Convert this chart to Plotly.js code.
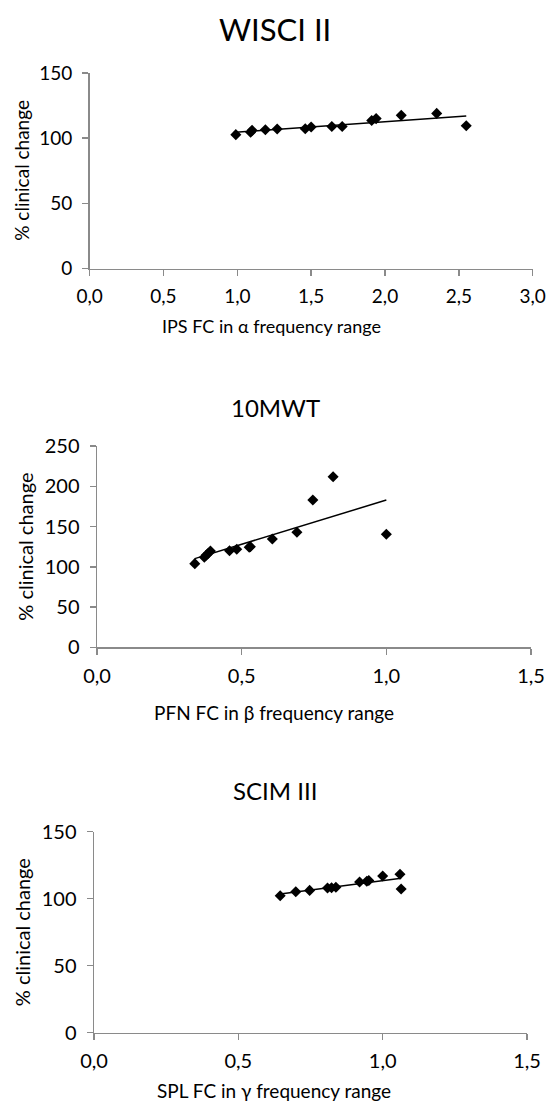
<!DOCTYPE html>
<html>
<head>
<meta charset="utf-8">
<script src="https://cdn.plot.ly/plotly-3.0.1.min.js"></script>
<style>html,body{margin:0;padding:0;background:#fff;}#chart{width:546px;height:1108px;}</style>
</head>
<body>
<div id="chart"></div>
<script>
// ---- Data ----
const titles = ["WISCI II", "10MWT", "SCIM III"];
const xTitles = ["IPS FC in α frequency range", "PFN FC in β frequency range", "SPL FC in γ frequency range"];
const yTitle = "% clinical change";

const wisciX = [0.99, 1.09, 1.10, 1.19, 1.27, 1.46, 1.50, 1.64, 1.71, 1.91, 1.94, 2.11, 2.35, 2.55];
const wisciY = [102.7, 104.5, 106.0, 106.5, 107.0, 107.2, 108.5, 109.0, 109.0, 113.5, 115.0, 117.5, 119.0, 109.5];

const mwtX = [0.338, 0.371, 0.378, 0.385, 0.392, 0.458, 0.483, 0.526, 0.530, 0.606, 0.691, 0.746, 0.816, 1.000];
const mwtY = [103.9, 111.8, 114.7, 116.7, 119.6, 120.0, 121.7, 124.2, 125.0, 134.5, 142.8, 183.0, 211.9, 140.3];

const scimX = [0.645, 0.699, 0.747, 0.809, 0.823, 0.838, 0.920, 0.945, 0.952, 1.000, 1.060, 1.064];
const scimY = [102.2, 105.2, 106.2, 108.0, 108.2, 108.5, 112.4, 113.0, 113.6, 116.9, 118.2, 107.2];

const xRanges = [[0, 3], [0, 1.5], [0, 1.5]];
const yRanges = [[0, 150], [0, 250], [0, 150]];

// ---- helpers ----
function fit(xs, ys) {
  const n = xs.length;
  let sx = 0, sy = 0, sxx = 0, sxy = 0;
  for (let i = 0; i < n; i++) { sx += xs[i]; sy += ys[i]; sxx += xs[i]*xs[i]; sxy += xs[i]*ys[i]; }
  const b = (n*sxy - sx*sy) / (n*sxx - sx*sx);
  const a = (sy - b*sx) / n;
  const x0 = Math.min(...xs), x1 = Math.max(...xs);
  return {x: [x0, x1], y: [a + b*x0, a + b*x1]};
}

const W = 546, H = 1108;
const px = v => v / W;
const py = v => 1 - v / H;

const sets = [[wisciX, wisciY], [mwtX, mwtY], [scimX, scimY]];
// pixel geometry of each panel: [left, right, bottom, top]
const geo = [[89.6, 532.7, 268.5, 73], [97, 531, 647.3, 446], [94, 527, 1032.7, 831.7]];
const titleY = [29, 407, 790];
const xTitleY = [326, 712, 1090];
const yTitleX = [22, 25, 22];
const titleSize = [31, 24, 24];

const traces = [];
const layout = {
  width: W, height: H,
  margin: {l: 0, r: 0, t: 0, b: 0},
  paper_bgcolor: '#fff', plot_bgcolor: '#fff',
  showlegend: false,
  separators: ',.',
  font: {family: 'Lato, "Open Sans", sans-serif', color: '#000'},
  annotations: []
};

sets.forEach((s, i) => {
  const k = i === 0 ? '' : String(i + 1);
  const g = geo[i];
  traces.push({
    x: s[0], y: s[1], type: 'scatter', mode: 'markers',
    xaxis: 'x' + k, yaxis: 'y' + k,
    marker: {symbol: 'diamond', size: 8.5, color: '#000'},
    hoverinfo: 'skip'
  });
  const f = fit(s[0], s[1]);
  traces.push({
    x: f.x, y: f.y, type: 'scatter', mode: 'lines',
    xaxis: 'x' + k, yaxis: 'y' + k,
    line: {color: '#000', width: 1.5},
    hoverinfo: 'skip'
  });
  const fs = i === 0 ? 19 : 20;
  layout['xaxis' + k] = {
    domain: [px(g[0]), px(g[1])], anchor: 'y' + k,
    range: xRanges[i], dtick: 0.5, tick0: 0, tickformat: '.1f',
    showgrid: false, zeroline: false, showline: true,
    linecolor: '#8a8a8a', linewidth: 1.5,
    ticks: 'outside', ticklen: 6, tickwidth: 1.5, tickcolor: '#8a8a8a',
    tickfont: {size: fs, color: '#000'}, ticklabelstandoff: 4,
    fixedrange: true
  };
  layout['yaxis' + k] = {
    domain: [py(g[2]), py(g[3])], anchor: 'x' + k,
    range: yRanges[i], dtick: 50, tick0: 0,
    showgrid: false, zeroline: false, showline: true,
    linecolor: '#8a8a8a', linewidth: 1.5,
    ticks: 'outside', ticklen: 6, tickwidth: 1.5, tickcolor: '#8a8a8a',
    tickfont: {size: fs, color: '#000'}, ticklabelstandoff: 6,
    fixedrange: true
  };
  layout.annotations.push({
    text: titles[i], xref: 'paper', yref: 'paper',
    x: px(275), y: py(titleY[i]), xanchor: 'center', yanchor: 'middle',
    showarrow: false, font: {size: titleSize[i], color: '#000'}
  });
  layout.annotations.push({
    text: xTitles[i], xref: 'paper', yref: 'paper',
    x: px(i === 2 ? 274 : (g[0] + g[1]) / 2 - 40), y: py(xTitleY[i]), xanchor: 'center', yanchor: 'middle',
    showarrow: false, font: {size: i === 0 ? 18 : 19, color: '#000'}
  });
  layout.annotations.push({
    text: yTitle, xref: 'paper', yref: 'paper', textangle: -90,
    x: px(yTitleX[i]), y: py((g[2] + g[3]) / 2), xanchor: 'center', yanchor: 'middle',
    showarrow: false, font: {size: i === 0 ? 19 : 20, color: '#000'}
  });
});

Plotly.newPlot('chart', traces, layout, {staticPlot: true, displayModeBar: false});
</script>
</body>
</html>
